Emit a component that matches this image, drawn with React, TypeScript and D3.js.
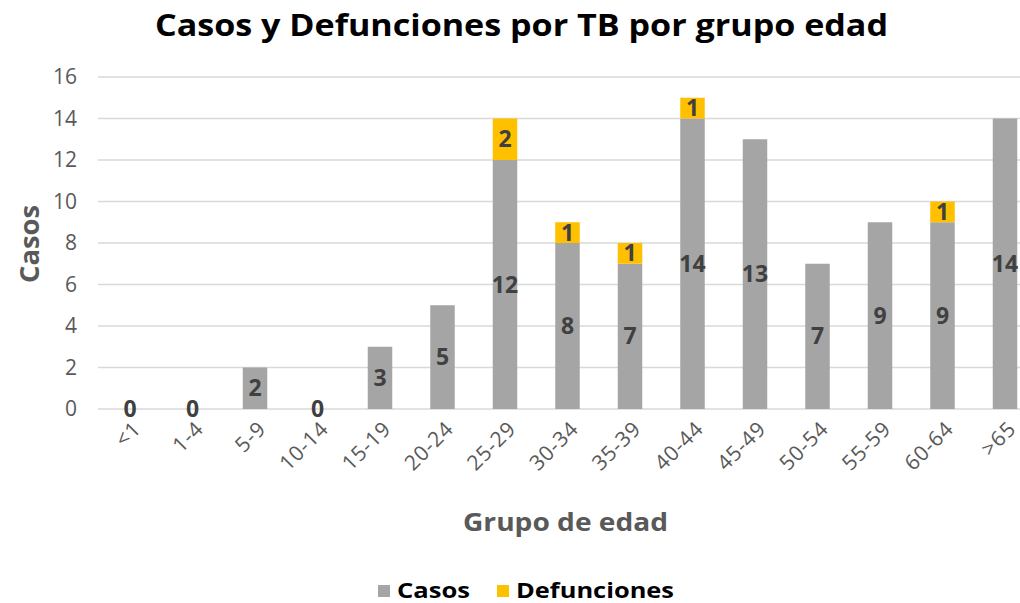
import React from "react";
import * as d3 from "d3";

const categories = ["<1", "1-4", "5-9", "10-14", "15-19", "20-24", "25-29", "30-34", "35-39", "40-44", "45-49", "50-54", "55-59", "60-64", ">65"];
const casos = [0, 0, 2, 0, 3, 5, 12, 8, 7, 14, 13, 7, 9, 9, 14];
const defunciones = [0, 0, 0, 0, 0, 0, 2, 1, 1, 1, 0, 0, 0, 1, 0];
const yTicks = [0, 2, 4, 6, 8, 10, 12, 14, 16];

const W = 1020;
const H = 603;
const FONT = "'Open Sans', 'DejaVu Sans', sans-serif";

export default function App() {
  const x = d3.scaleBand<string>().domain(categories).range([98.75, 1036.25]).paddingInner(0.6).paddingOuter(0.3);
  const y = d3.scaleLinear().domain([0, 16]).range([409, 77]);
  const bw = 24.5;
  const cx = (c: string) => (x(c) as number) + x.bandwidth() / 2;
  const grey = "#a5a5a5";
  const gold = "#ffc000";
  const labelCol = "#404040";

  return (
    <svg width={W} height={H} style={{ position: "absolute", left: 0, top: 0 }}>
      <rect width={W} height={H} fill="#fff" />
      <text x={155} y={36} textLength={733} lengthAdjust="spacingAndGlyphs" fontFamily={FONT} fontWeight={700} fontSize={31} fill="#000">
        Casos y Defunciones por TB por grupo edad
      </text>
      {yTicks.map((t) => (
        <g key={t}>
          <line x1={98} x2={1020} y1={y(t)} y2={y(t)} stroke="#d9d9d9" strokeWidth={1.5} />
          <text x={77} y={y(t)} dy="0.35em" textAnchor="end" fontFamily={FONT} fontSize={21} fill="#595959">
            {t}
          </text>
        </g>
      ))}
      {categories.map((c, i) => {
        const x0 = cx(c) - bw / 2;
        const c0 = casos[i];
        const d0 = defunciones[i];
        return (
          <g key={c}>
            {c0 > 0 && <rect x={x0} y={y(c0)} width={bw} height={y(0) - y(c0)} fill={grey} />}
            {d0 > 0 && <rect x={x0} y={y(c0 + d0)} width={bw} height={y(c0) - y(c0 + d0)} fill={gold} />}
            <text x={cx(c)} y={y(c0 / 2)} dy="0.35em" textAnchor="middle" fontFamily={FONT} fontWeight={700} fontSize={23} fill={labelCol}>
              {c0}
            </text>
            {d0 > 0 && (
              <text x={cx(c)} y={y(c0 + d0 / 2)} dy="0.35em" textAnchor="middle" fontFamily={FONT} fontWeight={700} fontSize={23} fill={labelCol}>
                {d0}
              </text>
            )}
            <text
              transform={`translate(${cx(c) + 7},${425}) rotate(-45)`}
              textAnchor="end"
              dy="0.35em"
              fontFamily={FONT}
              fontSize={21}
              letterSpacing={0.8}
              fill="#595959"
            >
              {c}
            </text>
          </g>
        );
      })}
      <text transform={`translate(39,244) rotate(-90)`} textAnchor="middle" textLength={78} lengthAdjust="spacingAndGlyphs" fontFamily={FONT} fontWeight={700} fontSize={26} fill="#595959">
        Casos
      </text>
      <text x={463} y={531} textLength={205} lengthAdjust="spacingAndGlyphs" fontFamily={FONT} fontWeight={700} fontSize={25} fill="#595959">
        Grupo de edad
      </text>
      <rect x={378} y={585} width={12} height={12} fill={grey} />
      <text x={397} y={598} textLength={73} lengthAdjust="spacingAndGlyphs" fontFamily={FONT} fontWeight={700} fontSize={21} fill="#000">
        Casos
      </text>
      <rect x={497} y={585} width={12} height={12} fill={gold} />
      <text x={516} y={598} textLength={158} lengthAdjust="spacingAndGlyphs" fontFamily={FONT} fontWeight={700} fontSize={21} fill="#000">
        Defunciones
      </text>
    </svg>
  );
}
